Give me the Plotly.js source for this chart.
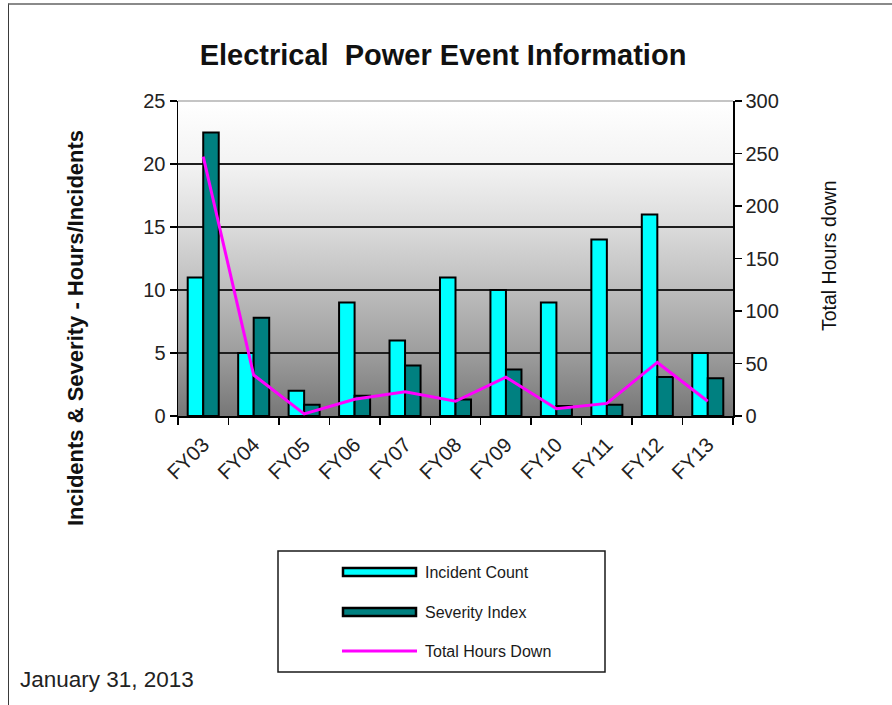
<!DOCTYPE html>
<html>
<head>
<meta charset="utf-8">
<script src="https://cdn.plot.ly/plotly-3.0.1.min.js"></script>
<style>
  html, body { margin: 0; padding: 0; background: #ffffff; }
  #wrap { position: relative; width: 892px; height: 705px; overflow: hidden; }
  #chart { position: absolute; left: 0; top: 0; width: 892px; height: 705px; }
  #frame {
    position: absolute; left: 8px; top: 3px; right: -2px; bottom: -2px;
    border-top: 2px solid #8a8a8a; border-left: 1px solid #3a3a3a;
    pointer-events: none;
  }
</style>
</head>
<body>
<div id="wrap">
  <div id="chart"></div>
  <div id="frame"></div>
</div>
<script>
// Fiscal years on the category axis
const fiscalYears = ['FY03', 'FY04', 'FY05', 'FY06', 'FY07', 'FY08', 'FY09', 'FY10', 'FY11', 'FY12', 'FY13'];

// Left axis series
const incidentCount = [11, 5, 2, 9, 6, 11, 10, 9, 14, 16, 5];
const severityIndex = [22.5, 7.8, 0.9, 1.6, 4.0, 1.3, 3.7, 0.8, 0.9, 3.1, 3.0];

// Right axis series
const totalHoursDown = [247, 39, 2, 16, 23, 14, 37, 7, 12, 51, 14];

const seriesNames = ['Incident Count', 'Severity Index', 'Total Hours Down'];
const seriesColors = ['#00ffff', '#008080', '#ff00ff'];

const chartTitle = 'Electrical  Power Event Information';
const leftAxisTitle = 'Incidents &amp; Severity - Hours/Incidents';
const rightAxisTitle = 'Total Hours down';
const dateNote = 'January 31, 2013';

const FONT = 'Liberation Sans, Arial, Helvetica, sans-serif';

// Plot area in pixels
const W = 892, H = 705;
const M = { l: 178, r: 159, t: 101, b: 289 };
const plotW = W - M.l - M.r;
const plotH = H - M.t - M.b;
const px = x => (x - M.l) / plotW;          // pixel x -> paper x
const py = y => (H - M.b - y) / plotH;      // pixel y -> paper y

// Vertical grey gradient behind the plot area
const gradientSvg =
  '<svg xmlns="http://www.w3.org/2000/svg" width="10" height="100" preserveAspectRatio="none">' +
  '<defs><linearGradient id="g" x1="0" y1="0" x2="0" y2="1">' +
  '<stop offset="0" stop-color="#ffffff"/>' +
  '<stop offset="0.2" stop-color="#f3f3f3"/>' +
  '<stop offset="0.4" stop-color="#dbdbdb"/>' +
  '<stop offset="0.6" stop-color="#bdbdbd"/>' +
  '<stop offset="0.8" stop-color="#9d9d9d"/>' +
  '<stop offset="1" stop-color="#777777"/>' +
  '</linearGradient></defs><rect width="10" height="100" fill="url(#g)"/></svg>';
const gradientUri = 'data:image/svg+xml;charset=utf-8,' + encodeURIComponent(gradientSvg);

const barLine = { color: '#000000', width: 2 };

const traces = [
  {
    type: 'bar', name: seriesNames[0], x: fiscalYears, y: incidentCount,
    marker: { color: seriesColors[0], line: barLine },
    yaxis: 'y', showlegend: false
  },
  {
    type: 'bar', name: seriesNames[1], x: fiscalYears, y: severityIndex,
    marker: { color: seriesColors[1], line: barLine },
    yaxis: 'y', showlegend: false
  },
  {
    type: 'scatter', mode: 'lines', name: seriesNames[2], x: fiscalYears, y: totalHoursDown,
    line: { color: seriesColors[2], width: 3 },
    yaxis: 'y2', showlegend: false
  }
];

// Legend drawn as a boxed key under the chart
const legendBox = { x0: 278, x1: 605, y0: 551, y1: 672 };
const swatchX0 = 343, swatchX1 = 416, textX = 423;
const rowY = [572, 612, 651];

const shapes = [
  // light edge along the top of the plot area
  { type: 'line', xref: 'paper', yref: 'paper', x0: 0, x1: 1, y0: 1, y1: 1,
    line: { color: '#c4c4c4', width: 2 }, layer: 'above' },
  { type: 'rect', xref: 'paper', yref: 'paper',
    x0: px(legendBox.x0), x1: px(legendBox.x1), y0: py(legendBox.y0), y1: py(legendBox.y1),
    line: { color: '#1a1a1a', width: 1.5 }, fillcolor: '#ffffff' },
  { type: 'rect', xref: 'paper', yref: 'paper',
    x0: px(swatchX0), x1: px(swatchX1), y0: py(rowY[0] - 4), y1: py(rowY[0] + 4),
    line: { color: '#000000', width: 2.5 }, fillcolor: seriesColors[0] },
  { type: 'rect', xref: 'paper', yref: 'paper',
    x0: px(swatchX0), x1: px(swatchX1), y0: py(rowY[1] - 4), y1: py(rowY[1] + 4),
    line: { color: '#000000', width: 2.5 }, fillcolor: seriesColors[1] },
  { type: 'line', xref: 'paper', yref: 'paper',
    x0: px(swatchX0 - 1), x1: px(swatchX1 + 1), y0: py(rowY[2]), y1: py(rowY[2]),
    line: { color: seriesColors[2], width: 3 } }
];

const annotations = [
  { text: '<b>' + leftAxisTitle + '</b>', xref: 'paper', yref: 'paper',
    x: px(75), y: py(328), xanchor: 'center', yanchor: 'middle', textangle: -90,
    showarrow: false, font: { family: FONT, size: 22, color: '#111111' } },
  { text: rightAxisTitle, xref: 'paper', yref: 'paper',
    x: px(829), y: py(256), xanchor: 'center', yanchor: 'middle', textangle: -90,
    showarrow: false, font: { family: FONT, size: 19.5, color: '#111111' } },
  { text: dateNote, xref: 'paper', yref: 'paper',
    x: px(18), y: py(679), xanchor: 'left', yanchor: 'middle',
    showarrow: false, font: { family: FONT, size: 22.5, color: '#222222' } }
];
seriesNames.forEach((name, i) => {
  annotations.push({
    text: name, xref: 'paper', yref: 'paper', x: px(textX), y: py(rowY[i]),
    xanchor: 'left', yanchor: 'middle', showarrow: false,
    font: { family: FONT, size: 16, color: '#1a1a1a' }
  });
});

const layout = {
  width: W, height: H, autosize: false,
  margin: M,
  paper_bgcolor: 'rgba(0,0,0,0)',
  plot_bgcolor: 'rgba(0,0,0,0)',
  font: { family: FONT, color: '#222222' },
  title: {
    text: chartTitle, xref: 'container', yref: 'container',
    x: 443 / W, y: 1 - 55 / H, xanchor: 'center', yanchor: 'middle',
    font: { family: FONT, size: 29, weight: 'bold', color: '#111111' }
  },
  barmode: 'group', bargap: 0.385, bargroupgap: 0,
  xaxis: {
    type: 'category', tickangle: -45, tickson: 'boundaries',
    ticks: 'outside', ticklen: 7, tickwidth: 1.5, tickcolor: '#000000',
    ticklabelstandoff: 7,
    showline: true, linecolor: '#000000', linewidth: 1.5,
    showgrid: false, zeroline: false,
    tickfont: { family: FONT, size: 20.5, color: '#222222' }
  },
  yaxis: {
    range: [0, 25], dtick: 5, tick0: 0,
    ticks: 'outside', ticklen: 7, tickwidth: 1.5, tickcolor: '#000000',
    showline: true, linecolor: '#000000', linewidth: 1.5,
    showgrid: true, gridcolor: '#1e1e1e', gridwidth: 1.5, zeroline: false,
    tickfont: { family: FONT, size: 20, color: '#222222' }
  },
  yaxis2: {
    overlaying: 'y', side: 'right',
    range: [0, 300], dtick: 50, tick0: 0,
    ticks: 'outside', ticklen: 7, tickwidth: 1.5, tickcolor: '#000000',
    showline: true, linecolor: '#000000', linewidth: 1.5,
    showgrid: false, zeroline: false,
    tickfont: { family: FONT, size: 20, color: '#222222' }
  },
  images: [{
    source: gradientUri, xref: 'paper', yref: 'paper',
    x: 0, y: 1, sizex: 1, sizey: 1, xanchor: 'left', yanchor: 'top',
    sizing: 'stretch', layer: 'below'
  }],
  shapes: shapes,
  annotations: annotations,
  showlegend: false
};

Plotly.newPlot('chart', traces, layout, { staticPlot: true, displayModeBar: false });
</script>
</body>
</html>
